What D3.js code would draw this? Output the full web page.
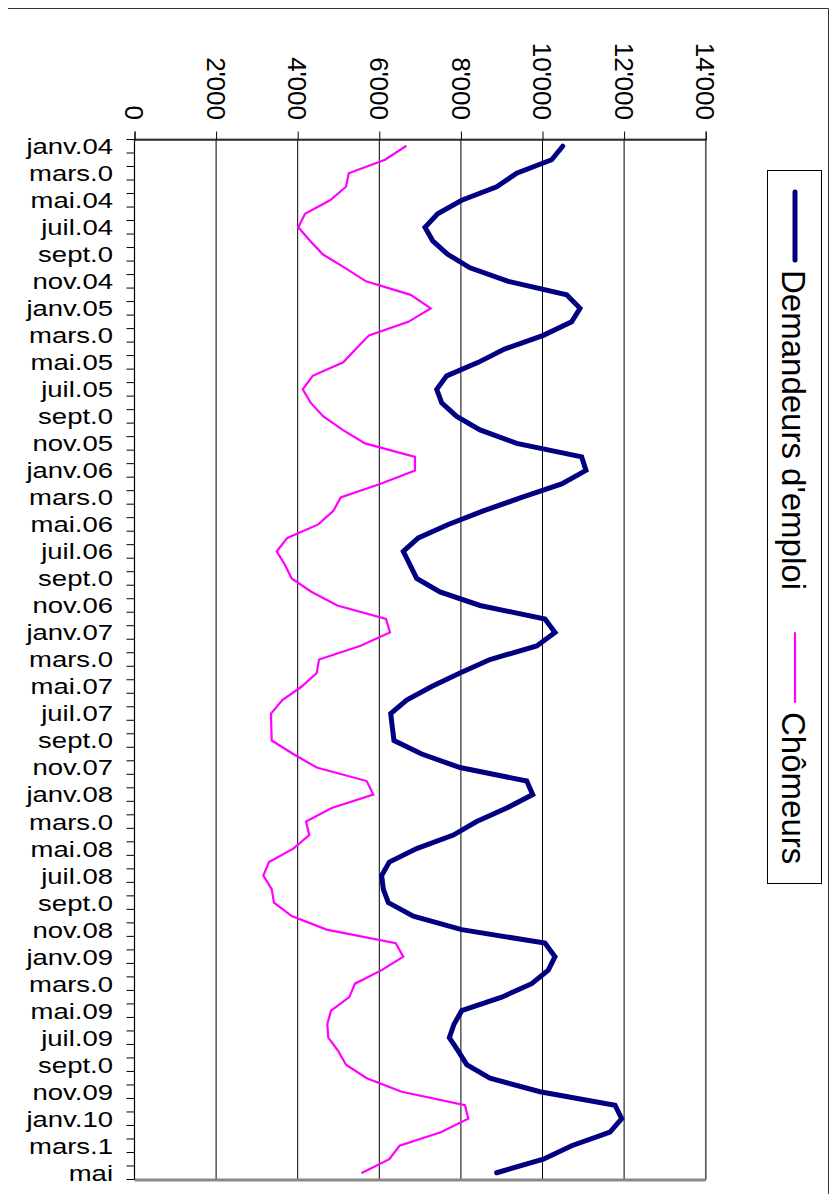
<!DOCTYPE html>
<html>
<head>
<meta charset="utf-8">
<script src="https://cdnjs.cloudflare.com/ajax/libs/d3/7.8.5/d3.min.js"></script>
<style>
  body { margin: 0; background: #fff; }
  text { font-family: Arial, "Liberation Sans", sans-serif; fill: #000; }
</style>
</head>
<body>
<div id="chart"></div>
<script>
// months jan 2004 -> may 2010
var moisNoms = ['janv.', 'févr.', 'mars.', 'avr.', 'mai.', 'juin.', 'juil.', 'août.', 'sept.', 'oct.', 'nov.', 'déc.']
var annees = ['04', '05', '06', '07', '08', '09', '10']
var categories = []
annees.forEach(function (a) {
  moisNoms.forEach(function (m) {
    if (categories.length < 77) categories.push(m + a)
  })
})

var catLabels = [
  'janv.04', 'mars.0', 'mai.04', 'juil.04', 'sept.0', 'nov.04',
  'janv.05', 'mars.0', 'mai.05', 'juil.05', 'sept.0', 'nov.05',
  'janv.06', 'mars.0', 'mai.06', 'juil.06', 'sept.0', 'nov.06',
  'janv.07', 'mars.0', 'mai.07', 'juil.07', 'sept.0', 'nov.07',
  'janv.08', 'mars.0', 'mai.08', 'juil.08', 'sept.0', 'nov.08',
  'janv.09', 'mars.0', 'mai.09', 'juil.09', 'sept.0', 'nov.09',
  'janv.10', 'mars.1', 'mai'
]

var demandeurs = [
  10495, 10225, 9367, 8877, 8020, 7431, 7120, 7309, 7676, 8223, 9162, 10593,
  10919, 10715, 10020, 9081, 8427, 7652, 7407, 7529, 7897, 8468, 9367, 10960,
  11066, 10470, 9489, 8549, 7691, 6956, 6588, 6752, 6916, 7488, 8468, 10061,
  10306, 9858, 8713, 7978, 7284, 6671, 6279, 6319, 6360, 7039, 7978, 9613,
  9760, 9122, 8387, 7815, 6916, 6245, 6058, 6098, 6221, 6834, 8020, 10061,
  10306, 10142, 9735, 9000, 8020, 7831, 7716, 7936, 8142, 8713, 9939, 11777,
  11941, 11654, 10715, 10020, 8877
]

var chomeurs = [
  6647, 6140, 5250, 5184, 4792, 4179, 4015, 4301, 4613, 5159, 5674, 6770,
  7260, 6711, 5748, 5429, 5118, 4368, 4123, 4320, 4628, 5103, 5650, 6875,
  6875, 6017, 5054, 4873, 4505, 3745, 3485, 3689, 3853, 4343, 4971, 6164,
  6262, 5527, 4522, 4466, 4098, 3623, 3346, 3353, 3363, 3892, 4466, 5691,
  5853, 4833, 4203, 4284, 3892, 3297, 3157, 3363, 3419, 3853, 4710, 6402,
  6588, 6058, 5404, 5265, 4816, 4726, 4750, 4995, 5184, 5691, 6549, 8100,
  8181, 7505, 6495, 6245, 5581
]

var valTicks = [0, 2000, 4000, 6000, 8000, 10000, 12000, 14000]
var valLabels = ['0', "2'000", "4'000", "6'000", "8'000", "10'000", "12'000", "14'000"]

var series = [
  { nom: 'Demandeurs d\'emploi', vals: demandeurs, couleur: '#000080', ep: 5 },
  { nom: 'Chômeurs', vals: chomeurs, couleur: '#ff00ff', ep: 2.2 }
]

var W = 837, H = 1194
var svg = d3.select('#chart').append('svg').attr('width', W).attr('height', H)

// outer frame (top + right visible)
svg.append('line').attr('x1', 8).attr('x2', 828.5).attr('y1', 8.5).attr('y2', 8.5).attr('stroke', '#333')
svg.append('line').attr('x1', 828.5).attr('x2', 828.5).attr('y1', 8.5).attr('y2', H).attr('stroke', '#333')

var pLeft = 134.5, pRight = 705.7, pTop = 139.5, pBottom = 1179.5

var x = d3.scaleLinear().domain([0, 14000]).range([pLeft, pRight])
var y = d3.scaleBand().domain(categories).range([pTop, pBottom])

// gridlines
svg.append('g').selectAll('line').data(valTicks.slice(1)).enter().append('line')
  .attr('x1', function (d) { return x(d) }).attr('x2', function (d) { return x(d) })
  .attr('y1', pTop).attr('y2', pBottom)
  .attr('stroke', '#000').attr('stroke-width', 1)

// plot border
svg.append('line').attr('x1', pLeft).attr('x2', pRight).attr('y1', pBottom + 0.5).attr('y2', pBottom + 0.5)
  .attr('stroke', '#888').attr('stroke-width', 3)
svg.append('line').attr('x1', pRight).attr('x2', pRight).attr('y1', pTop).attr('y2', pBottom)
  .attr('stroke', '#555').attr('stroke-width', 1.5)
svg.append('line').attr('x1', pLeft).attr('x2', pRight + 1).attr('y1', pTop).attr('y2', pTop)
  .attr('stroke', '#666').attr('stroke-width', 2)

// value axis on top
var xAxis = d3.axisTop(x).tickValues(valTicks).tickSize(8).tickFormat('')
var gx = svg.append('g').attr('transform', 'translate(0,' + pTop + ')').call(xAxis)
gx.select('.domain').attr('stroke', '#000')
gx.selectAll('.tick line').attr('stroke', '#000')

svg.append('g').selectAll('text').data(valTicks).enter().append('text')
  .attr('transform', function (d) { return 'translate(' + x(d) + ',120) rotate(90)' })
  .attr('text-anchor', 'end')
  .attr('dy', '0.36em')
  .style('font-size', '26px')
  .text(function (d, i) { return valLabels[i] })

// category axis on left, ticks on each month boundary
var bounds = d3.range(categories.length + 1)
svg.append('g').selectAll('line').data(bounds).enter().append('line')
  .attr('x1', pLeft - 8).attr('x2', pLeft)
  .attr('y1', function (i) { return pTop + i * y.step() })
  .attr('y2', function (i) { return pTop + i * y.step() })
  .attr('stroke', '#000')
svg.append('line').attr('x1', pLeft).attr('x2', pLeft).attr('y1', pTop).attr('y2', pBottom)
  .attr('stroke', '#000').attr('stroke-width', 1.2)

svg.append('g').selectAll('text').data(catLabels).enter().append('text')
  .attr('transform', function (d, i) {
    var c = categories[i * 2]
    return 'translate(113,' + (y(c) + y.bandwidth() / 2) + ') scale(1.25,1)'
  })
  .attr('text-anchor', 'end')
  .attr('dy', '0.36em')
  .style('font-size', '22px')
  .text(function (d) { return d })

// lines
var line = d3.line()
  .x(function (d) { return x(d) })
  .y(function (d, i) { return y(categories[i]) + y.bandwidth() / 2 })

series.forEach(function (s) {
  svg.append('path').datum(s.vals)
    .attr('d', line)
    .attr('fill', 'none')
    .attr('stroke', s.couleur)
    .attr('stroke-width', s.ep)
    .attr('stroke-linejoin', 'miter')
    .attr('stroke-linecap', 'round')
})

// legend (rotated)
var lg = svg.append('g')
lg.append('rect').attr('x', 767.5).attr('y', 170.5).attr('width', 54).attr('height', 713)
  .attr('fill', '#fff').attr('stroke', '#000')
var legY = [[192, 260, 270], [633, 702, 712]]
series.forEach(function (s, i) {
  lg.append('line').attr('x1', 795).attr('x2', 795)
    .attr('y1', legY[i][0]).attr('y2', legY[i][1])
    .attr('stroke', s.couleur).attr('stroke-width', s.ep).attr('stroke-linecap', 'round')
  lg.append('text')
    .attr('transform', 'translate(782,' + legY[i][2] + ') rotate(90)')
    .style('font-size', '33px')
    .text(s.nom)
})
</script>
</body>
</html>
